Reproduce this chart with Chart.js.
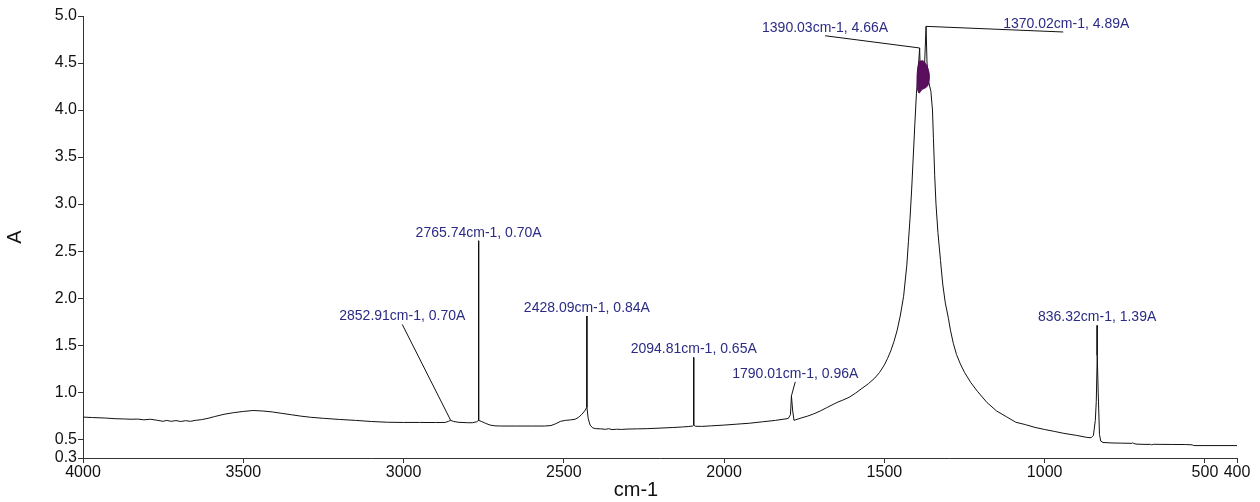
<!DOCTYPE html>
<html>
<head>
<meta charset="utf-8">
<script src="https://cdn.jsdelivr.net/npm/chart.js@4/dist/chart.umd.min.js"></script>
<style>
  html, body { margin: 0; padding: 0; background: #ffffff; }
  #wrap { width: 1260px; height: 502px; }
</style>
</head>
<body>
<div id="wrap"><canvas id="c" width="1260" height="502"></canvas></div>
<script>
// ---- Data ----
const wavenumbers = [
  4000,3970,3930,3900,3870,3850,3830,3810,3790,3770,3750,3740,3725,3710,3695,3680,3665,3650,3630,3610,
  3590,3560,3530,3500,3470,3440,3410,3380,3350,3320,3290,3250,3200,3150,3100,3050,3000,2950,2900,2870,
  2860,2853,2845,2830,2800,2785,2772,2766,2758,2745,2730,2715,2700,2650,2600,2560,2540,2525,2510,2495,
  2480,2465,2455,2445,2435,2428,2424,2418,2410,2400,2385,2370,2360,2350,2335,2320,2300,2270,2240,2200,
  2160,2130,2110,2098,2095,2090,2070,2040,2000,1960,1920,1880,1840,1810,1800,1793,1790,1786,1782,1778,
  1760,1740,1720,1700,1680,1660,1645,1630,1610,1590,1570,1550,1530,1515,1500,1490,1480,1470,1460,1450,
  1440,1430,1425,1420,1415,1410,1405,1400,1395,1390,1388,1384,1380,1375,1370,1367,1362,1355,1350,1347,
  1343,1339,1333,1325,1318,1310,1300,1294,1285,1275,1263,1250,1230,1210,1180,1150,1120,1090,1060,1030,
  1000,970,940,900,870,855,848,842,839,836,833,829,825,818,790,760,728,725,722,715,
  690,670,666,660,640,600,560,540,535,500,450,400
];
const absorbance = [
  0.735,0.730,0.725,0.718,0.715,0.712,0.714,0.706,0.712,0.702,0.690,0.700,0.690,0.698,0.688,0.697,0.690,0.700,0.708,0.722,
  0.740,0.765,0.782,0.795,0.805,0.800,0.790,0.775,0.760,0.745,0.733,0.722,0.710,0.700,0.688,0.680,0.678,0.678,0.677,0.678,
  0.690,0.700,0.690,0.680,0.675,0.675,0.685,0.700,0.690,0.670,0.650,0.642,0.640,0.640,0.640,0.640,0.645,0.665,0.690,0.700,
  0.705,0.712,0.730,0.760,0.800,0.840,0.720,0.650,0.620,0.612,0.610,0.605,0.612,0.602,0.606,0.604,0.608,0.610,0.612,0.618,
  0.624,0.630,0.635,0.640,0.650,0.638,0.636,0.642,0.650,0.660,0.670,0.685,0.700,0.715,0.720,0.760,0.960,0.800,0.700,0.705,
  0.725,0.745,0.770,0.800,0.835,0.870,0.895,0.915,0.945,0.990,1.040,1.090,1.150,1.210,1.290,1.360,1.440,1.540,1.660,1.820,
  2.020,2.350,2.600,2.850,3.150,3.500,3.850,4.180,4.400,4.660,4.400,4.300,4.350,4.450,4.890,4.500,4.300,4.200,4.000,3.700,
  3.300,3.000,2.700,2.400,2.150,1.950,1.780,1.660,1.520,1.400,1.300,1.210,1.100,1.010,0.890,0.800,0.740,0.680,0.655,0.625,
  0.603,0.583,0.562,0.540,0.520,0.515,0.540,0.700,0.900,1.390,1.000,0.550,0.480,0.465,0.460,0.458,0.456,0.462,0.455,0.448,
  0.445,0.445,0.440,0.446,0.445,0.444,0.443,0.440,0.432,0.432,0.432,0.432
];

// dense saturated (purple) region at the top of the main band, as an outline
const blobWn  = [1391,1378,1366,1360,1362,1370,1382,1392,1397,1398,1395,1391];
const blobAbs = [4.52,4.52,4.46,4.38,4.28,4.24,4.22,4.18,4.24,4.36,4.47,4.52];

// peak picks: peak position, peak value, and where the label's leader line starts
const peakWn   = [2852.91, 2765.74, 2428.09, 2094.81, 1790.01, 1390.03, 1370.02, 836.32];
const peakAbs  = [0.70, 0.70, 0.84, 0.65, 0.96, 4.66, 4.89, 1.39];
const leaderWn  = [3004, 2765.74, 2428.09, 2094.81, 1778, 1685, 942, 836.32];
const leaderAbs = [1.72, 2.61, 1.81, 1.37, 1.11, 4.79, 4.83, 1.71];

const xTicks = [4000, 3500, 3000, 2500, 2000, 1500, 1000, 500, 400];
const yTicks = [0.3, 0.5, 1.0, 1.5, 2.0, 2.5, 3.0, 3.5, 4.0, 4.5, 5.0];

// ---- Build datasets ----
const spectrum = wavenumbers.map((w, i) => ({ x: w, y: absorbance[i] }));
const blob = blobWn.map((w, i) => ({ x: w, y: blobAbs[i] }));

const datasets = [
  { data: blob, borderColor: '#4e0b52', backgroundColor: '#5a0f5e', borderWidth: 1,
    pointRadius: 0, showLine: true, tension: 0.3, fill: 'shape' },
  { data: spectrum, borderColor: '#111111', borderWidth: 1, pointRadius: 0, showLine: true, tension: 0 }
];
peakWn.forEach((w, i) => {
  datasets.push({
    data: [{ x: leaderWn[i], y: leaderAbs[i] }, { x: w, y: peakAbs[i] }],
    borderColor: '#111111', borderWidth: 1, pointRadius: 0, showLine: true, tension: 0
  });
});

const FONT = "'Liberation Sans', Arial, sans-serif";

const annotPlugin = {
  id: 'annot',
  afterDatasetsDraw(chart) {
    const { ctx, scales } = chart;
    ctx.save();
    ctx.font = '14px ' + FONT;
    ctx.fillStyle = '#2b2b86';
    ctx.textAlign = 'center';
    ctx.textBaseline = 'middle';
    peakWn.forEach((w, i) => {
      const px = scales.x.getPixelForValue(leaderWn[i]);
      const py = scales.y.getPixelForValue(leaderAbs[i]);
      const txt = w.toFixed(2) + 'cm-1, ' + peakAbs[i].toFixed(2) + 'A';
      ctx.fillText(txt, px + (i === 6 ? 3 : 0), py - 8);
    });
    // x axis title
    ctx.font = '20px ' + FONT;
    ctx.fillStyle = '#111111';
    ctx.fillText('cm-1', 636, 490);
    ctx.restore();
  }
};

new Chart(document.getElementById('c'), {
  type: 'scatter',
  data: { datasets },
  plugins: [annotPlugin],
  options: {
    responsive: false,
    animation: false,
    layout: { padding: { top: 16, right: 23, left: 0, bottom: 0 } },
    plugins: { legend: { display: false }, tooltip: { enabled: false } },
    scales: {
      x: {
        type: 'linear',
        reverse: true,
        min: 400,
        max: 4000,
        afterBuildTicks: s => { s.ticks = xTicks.map(v => ({ value: v })); },
        afterFit: s => { s.height = 44; },
        ticks: {
          autoSkip: false, maxRotation: 0, padding: 0,
          color: '#111111', font: { family: FONT, size: 16 },
          callback: v => String(v)
        },
        grid: { drawOnChartArea: false, drawTicks: true, tickLength: 5, color: '#333333' },
        border: { display: true, color: '#333333', width: 1 },
        title: { display: false }
      },
      y: {
        type: 'linear',
        min: 0.3,
        max: 5.0,
        afterBuildTicks: s => { s.ticks = yTicks.map(v => ({ value: v })); },
        afterFit: s => { s.width = 83; },
        ticks: {
          autoSkip: false, padding: 1,
          color: '#111111', font: { family: FONT, size: 16 },
          callback: v => Number(v).toFixed(1)
        },
        grid: { drawOnChartArea: false, drawTicks: true, tickLength: 5, color: '#333333' },
        border: { display: true, color: '#333333', width: 1 },
        title: {
          display: true, text: 'A', color: '#111111',
          font: { family: FONT, size: 20 },
          padding: { top: 3, bottom: 0 }
        }
      }
    }
  }
});
</script>
</body>
</html>
